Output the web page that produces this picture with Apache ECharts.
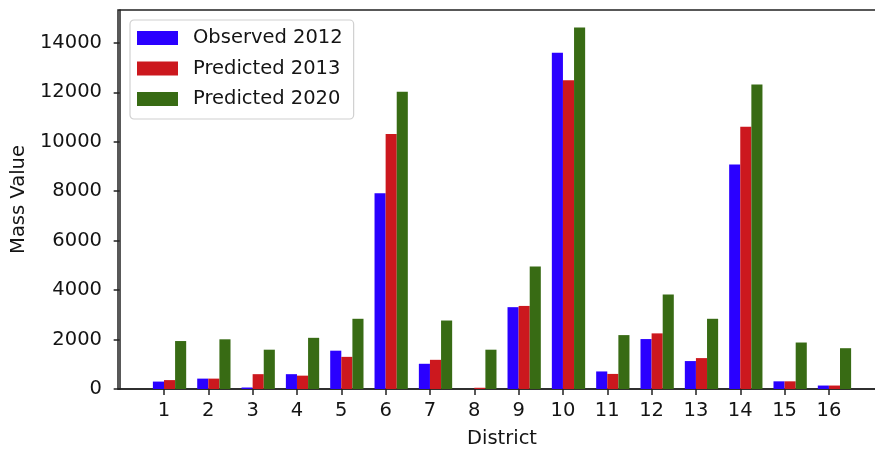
<!DOCTYPE html>
<html>
<head>
<meta charset="utf-8">
<script src="https://cdn.jsdelivr.net/npm/echarts@6/dist/echarts.min.js"></script>
<style>
  html, body { margin: 0; padding: 0; background: #fff; }
  #chart { width: 875px; height: 452px; }
</style>
</head>
<body>
<div id="chart"></div>
<script>
// District numbers and mass values per scenario
const districts = [1, 2, 3, 4, 5, 6, 7, 8, 9, 10, 11, 12, 13, 14, 15, 16];
const observed2012 = [300, 420, 60, 600, 1550, 7920, 1020, 0, 3310, 13600, 710, 2020, 1130, 9080, 310, 140];
const predicted2013 = [360, 420, 600, 540, 1300, 10310, 1180, 50, 3360, 12490, 610, 2250, 1250, 10610, 310, 140];
const predicted2020 = [1940, 2010, 1590, 2070, 2840, 12020, 2770, 1590, 4950, 14620, 2180, 3820, 2840, 12320, 1880, 1650];
const yTicks = [0, 2000, 4000, 6000, 8000, 10000, 12000, 14000];
const seriesNames = ['Observed 2012', 'Predicted 2013', 'Predicted 2020'];

const textColor = '#141414';
const fontFamily = '"DejaVu Sans", sans-serif';
const fontSize = 19.5;

function pairs(values) {
  return districts.map((d, i) => [d, values[i]]);
}

const chart = echarts.init(document.getElementById('chart'), null, { renderer: 'canvas' });

const xMin = -0.0375, xMax = 17.2875;
// bar groups sit a quarter-bar-width to the right of each tick
const shift = 0.125;

const colors = ['#2a00ff', '#cc181e', '#386b14'];
const valueSets = [observed2012, predicted2013, predicted2020];

chart.setOption({
  animation: false,
  backgroundColor: '#ffffff',
  textStyle: { fontFamily: fontFamily, color: textColor },
  grid: {
    left: 118, top: 10, bottom: 63, right: -11,
    show: true, borderColor: '#222222', borderWidth: 1.5,
    outerBoundsMode: 'none'
  },
  legend: {
    data: seriesNames,
    orient: 'vertical',
    left: 130, top: 20,
    padding: [8, 11, 10, 7],
    itemWidth: 41, itemHeight: 14,
    itemGap: 10.5,
    icon: 'rect',
    selectedMode: false,
    backgroundColor: '#ffffff',
    borderColor: '#d0d0d0', borderWidth: 1.2, borderRadius: 4,
    textStyle: { fontSize: fontSize, color: textColor, fontFamily: fontFamily, padding: [0, 0, 0, 10], lineHeight: 20 }
  },
  xAxis: [
    {
      type: 'value', min: xMin, max: xMax,
      name: 'District', nameLocation: 'middle', nameGap: 40,
      nameTextStyle: { fontSize: fontSize, color: textColor, fontFamily: fontFamily },
      axisLine: { show: true, lineStyle: { color: '#222222', width: 1.5 } },
      axisTick: { show: true, length: 6, lineStyle: { color: '#222222', width: 1.5 }, customValues: districts },
      axisLabel: { fontSize: fontSize, color: textColor, margin: 12, customValues: districts, formatter: v => String(v) },
      splitLine: { show: false }
    },
    {
      type: 'value', min: xMin - shift, max: xMax - shift, show: false,
      splitLine: { show: false }
    }
  ],
  yAxis: {
    type: 'value', min: 0, max: 15330,
    name: 'Mass Value', nameLocation: 'middle', nameGap: 88,
    nameTextStyle: { fontSize: fontSize, color: textColor, fontFamily: fontFamily },
    axisLine: { show: true, lineStyle: { color: '#222222', width: 1.5 } },
    axisTick: { show: true, length: 6, lineStyle: { color: '#222222', width: 1.5 }, customValues: yTicks },
    axisLabel: { fontSize: fontSize, color: textColor, margin: 16, customValues: yTicks, formatter: v => String(v) },
    splitLine: { show: false }
  },
  series: seriesNames.map((name, k) => ({
    name: name,
    type: 'bar',
    xAxisIndex: 1,
    data: pairs(valueSets[k]),
    barWidth: 11.1,
    barGap: '0%',
    itemStyle: { color: colors[k] }
  }))
});
</script>
</body>
</html>
